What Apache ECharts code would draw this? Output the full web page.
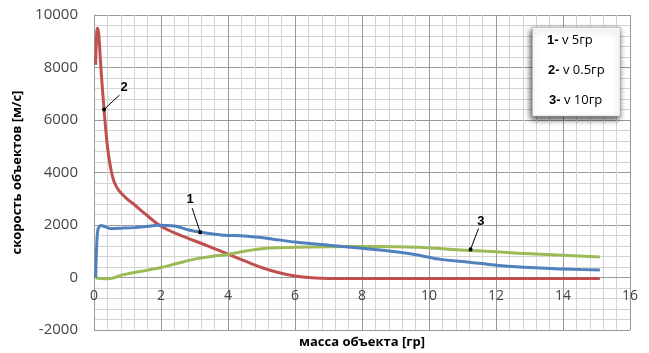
<!DOCTYPE html>
<html><head><meta charset="utf-8">
<script src="https://cdn.jsdelivr.net/npm/echarts@6/dist/echarts.min.js"></script>
<style>html,body{margin:0;padding:0;background:#fff}#c{width:649px;height:353px}</style>
</head><body><div id="c"></div>
<script>
const xTicks = [0,2,4,6,8,10,12,14,16];
const yTicks = [-2000,0,2000,4000,6000,8000,10000];
const series1 = [[0.05,0],[0.08,1200],[0.12,1850],[0.2,1980],[0.3,1950],[0.48,1870],[0.8,1880],[1.2,1900],[1.6,1950],[1.9,1990],[2.4,1960],[2.8,1820],[3.2,1720],[3.8,1620],[4.5,1580],[5.2,1490],[6,1350],[7,1230],[8,1110],[9,980],[9.7,850],[10.3,700],[11.2,580],[12,470],[12.7,400],[13.5,350],[14.3,310],[15.1,290]];
const series2 = [[0.05,8100],[0.07,9000],[0.1,9500],[0.14,9300],[0.2,8100],[0.3,6400],[0.4,5000],[0.5,4150],[0.6,3650],[0.75,3300],[1.0,2980],[1.2,2780],[1.5,2450],[2,1950],[2.5,1650],[3,1400],[3.5,1150],[4,890],[4.5,630],[5,380],[5.5,190],[6,60],[6.5,-10],[7,-40],[8,-40],[9,-40],[10,-40],[11,-40],[12,-40],[13,-40],[14,-40],[15.1,-40]];
const series3 = [[0.05,-20],[0.3,-50],[0.5,-40],[0.8,80],[1.2,190],[1.6,280],[2,380],[2.5,540],[3,700],[3.5,800],[4,880],[4.5,1000],[5.2,1120],[6,1150],[7,1170],[8,1180],[9,1170],[9.7,1150],[10.2,1110],[11.2,1030],[12,980],[12.7,920],[14,850],[15.1,780]];
const labels = ['1','2','3'];
const legendText = [['1-',' v 5гр'],['2-',' v 0.5гр'],['3-',' v 10гр']];
const axisNames = ['масса объекта [гр]','скорость объектов [м/с]'];

const chart = echarts.init(document.getElementById('c'));
const font = 'Open Sans, Liberation Sans, sans-serif';
function leader(from, to){
  return {
    silent:true, symbol:['none','circle'], symbolSize:4,
    lineStyle:{color:'#000',width:1,type:'solid'},
    label:{show:false},
    data:[[{coord:from, symbol:'none'},{coord:to, symbol:'circle', symbolSize:4, itemStyle:{color:'#000'}}]]
  };
}
function annot(text, pt){
  return {silent:true, symbol:'circle', symbolSize:0,
    data:[{coord:pt, label:{show:true, formatter:text, color:'#000', fontWeight:'bold', fontSize:13, fontFamily:'Liberation Sans, sans-serif', position:'inside'}}]};
}
chart.setOption({
  animation:false,
  grid:{left:94,right:19,top:15,bottom:23,outerBoundsMode:'none',containLabel:false},
  xAxis:{type:'value',min:0,max:16,interval:2,offset:-52.5,
    name:axisNames[0],nameLocation:'middle',nameGap:58,
    nameTextStyle:{fontWeight:'bold',fontSize:13,color:'#000',fontFamily:font},
    axisLine:{show:true,onZero:false,lineStyle:{color:'#999'}},
    axisTick:{show:false},
    axisLabel:{fontSize:14,color:'#444',fontFamily:font,margin:12},
    splitLine:{show:true,lineStyle:{color:'#999',width:1}},
    minorTick:{show:false,splitNumber:5},
    minorSplitLine:{show:true,lineStyle:{color:'#d4d4d4',width:1}}
  },
  yAxis:{type:'value',min:-2000,max:10000,interval:2000,
    name:axisNames[1],nameLocation:'middle',nameGap:68,
    nameTextStyle:{fontWeight:'bold',fontSize:13,color:'#000',fontFamily:font},
    axisLine:{show:true,lineStyle:{color:'#999'}},
    axisTick:{show:false},
    axisLabel:{fontSize:15,color:'#444',fontFamily:font,margin:16,formatter:v=>String(v)},
    splitLine:{show:true,lineStyle:{color:'#999',width:1}},
    minorTick:{show:false,splitNumber:5},
    minorSplitLine:{show:true,lineStyle:{color:'#d4d4d4',width:1}}
  },
  series:[
    {type:'line',data:series1,smooth:0.3,showSymbol:false,lineStyle:{color:'#4f81bd',width:3},itemStyle:{color:'#4f81bd'},z:3,
      markLine:leader([2.93,2640],[3.17,1720]),
      markPoint:annot(labels[0],[2.87,2960])},
    {type:'line',data:series2,smooth:0.35,showSymbol:false,lineStyle:{color:'#c0504d',width:3},itemStyle:{color:'#c0504d'},z:2,
      markLine:leader([0.76,6950],[0.3,6400]),
      markPoint:annot(labels[1],[0.9,7250])},
    {type:'line',data:series3,smooth:0.3,showSymbol:false,lineStyle:{color:'#9bbb59',width:3},itemStyle:{color:'#9bbb59'},z:2,
      markLine:leader([11.48,1870],[11.24,1070]),
      markPoint:annot(labels[2],[11.55,2130])}
  ],
  graphic:[
    {type:'rect',left:532,top:27,shape:{width:88,height:89},style:{fill:'#fff',stroke:'#888',lineWidth:0.5,shadowBlur:6,shadowColor:'rgba(0,0,0,0.75)',shadowOffsetX:-1,shadowOffsetY:3},z:11},
    ...legendText.map((t,i)=>({type:'text',left:547+i,top:34+i*30,z:12,
      style:{text:'{b|'+t[0]+'}{n|'+t[1]+'}',rich:{b:{fontWeight:'bold',fontSize:13,fill:'#000',fontFamily:'Liberation Sans, sans-serif'},n:{fontSize:13,fill:'#000',fontFamily:font}}}}))
  ]
});
</script></body></html>
